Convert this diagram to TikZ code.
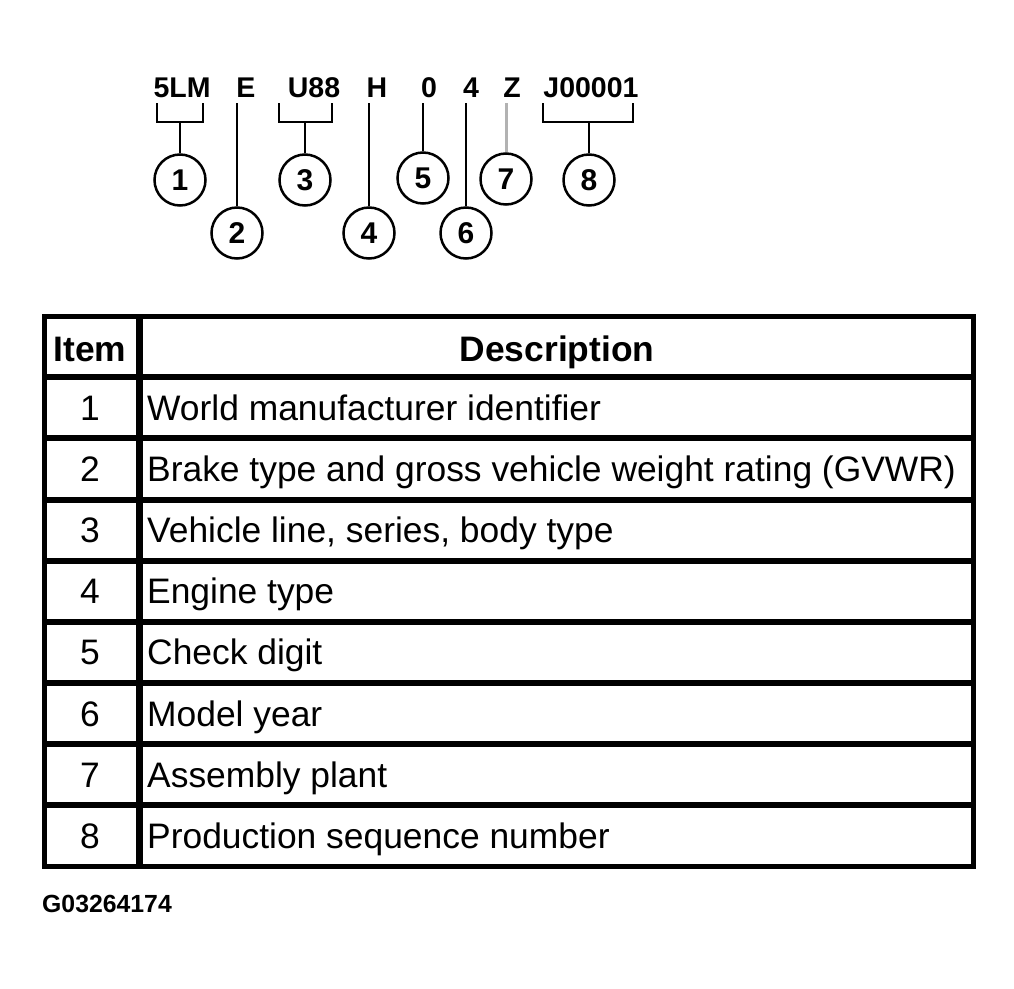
\documentclass[tikz,border=0pt]{standalone}
\usepackage{fontspec}
\setmainfont{Liberation Sans}
\usetikzlibrary{calc}

\begin{document}
\begin{tikzpicture}[x=1pt, y=-1pt,
  code/.style={font=\fontsize{28.5}{32}\selectfont\bfseries, anchor=base, inner xsep=0pt, inner ysep=6pt, outer sep=0pt},
  callout/.style={draw, circle, line width=2.5pt, minimum size=51pt, inner sep=0pt, font=\fontsize{30}{32}\selectfont\bfseries},
  lead/.style={line width=2pt},
  rowline/.style={line width=6pt},
  head/.style={font=\fontsize{35.4}{40}\selectfont\bfseries, inner sep=0pt, anchor=base},
  num/.style={font=\fontsize{35.4}{40}\selectfont, inner sep=0pt, anchor=base},
  cell/.style={font=\fontsize{35.4}{40}\selectfont, inner sep=0pt, anchor=base west}]
  \useasboundingbox (0,0) rectangle (1014,988);

  \node[code] (l1) at (182,97) {5LM};
  \node[code] (l2) at (246,97) {E};
  \node[code] (l3) at (314,97) {U88};
  \node[code] (l4) at (377,97) {H};
  \node[code] (l5) at (429,97) {0};
  \node[code] (l6) at (471,97) {4};
  \node[code] (l7) at (512,97) {Z};
  \node[code] (l8) at (591,97) {J00001};

  \node[callout] (c1) at (180,180) {1};
  \node[callout] (c2) at (237,233) {2};
  \node[callout] (c3) at (305,180) {3};
  \node[callout] (c4) at (369,233) {4};
  \node[callout] (c5) at (423,178) {5};
  \node[callout] (c6) at (466,233) {6};
  \node[callout] (c7) at (506,179) {7};
  \node[callout] (c8) at (589,180) {8};

  \draw[lead] ($(c1.north |- l1.south)+(-23,0)$) -- ++(0,19) -- ++(46,0) -- ++(0,-19);
  \draw[lead] ($(c1.north |- l1.south)+(0,19)$) -- (c1.north);
  \draw[lead] ($(c3.north |- l3.south)+(-26,0)$) -- ++(0,19) -- ++(53,0) -- ++(0,-19);
  \draw[lead] ($(c3.north |- l3.south)+(0,19)$) -- (c3.north);
  \draw[lead] ($(c8.north |- l8.south)+(-46,0)$) -- ++(0,19) -- ++(90,0) -- ++(0,-19);
  \draw[lead] ($(c8.north |- l8.south)+(0,19)$) -- (c8.north);
  \draw[lead] (c2.north |- l2.south) -- (c2.north);
  \draw[lead] (c4.north |- l4.south) -- (c4.north);
  \draw[lead] (c5.north |- l5.south) -- (c5.north);
  \draw[lead] (c6.north |- l6.south) -- (c6.north);
  \draw[lead, gray!60, line width=3pt] (c7.north |- l7.south) -- (c7.north);

  \draw[line width=5pt] (44.5,316) rectangle (973.5,866.5);
  \foreach \k in {1,...,8}
    \draw[rowline] (44.5,{316+61.17*\k}) -- (973.5,{316+61.17*\k});
  \draw[line width=7pt] (139,316) -- (139,866.5);

  \node[head] (hitem) at (90,361) {Item};
  \node[head] (hdesc) at (557,361) {Description};
  \foreach \i/\txt in {1/World manufacturer identifier,
      2/Brake type and gross vehicle weight rating (GVWR),
      3/{Vehicle line, series, body type},
      4/Engine type,
      5/Check digit,
      6/Model year,
      7/Assembly plant,
      8/Production sequence number} {
    \node[num] (n\i) at (90,{359+61.17*\i}) {\i};
    \node[cell] (d\i) at (147,{359+61.17*\i}) {\txt};
  }

  \node[anchor=base west, inner sep=0pt, font=\fontsize{24.8}{28}\selectfont\bfseries] (fig) at (42,912) {G03264174};
\end{tikzpicture}
\end{document}
